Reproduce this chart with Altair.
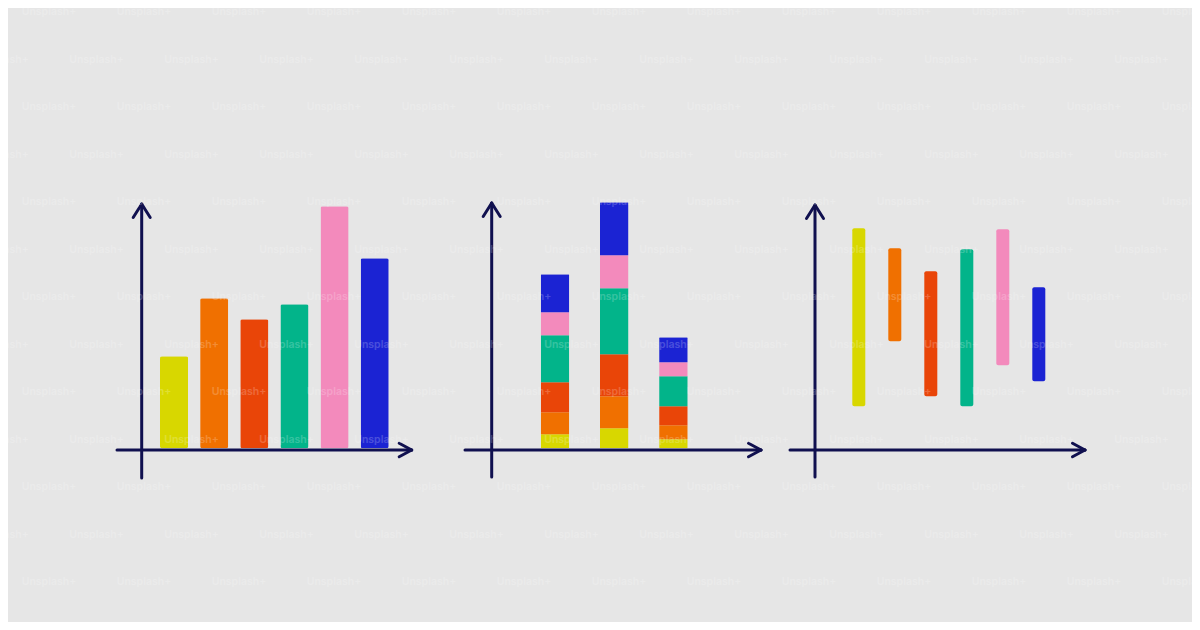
import altair as alt
import pandas as pd

# ---------------- data ----------------
series = ["yellow", "orange", "red", "green", "pink", "blue"]
palette = ["#d8d700", "#f07000", "#e94508", "#02b48a", "#f38abc", "#1b23d3"]

# panel 1: simple bars
bar_values = [9.2, 15.0, 12.9, 14.4, 24.2, 19.0]

# panel 2: stacked bars (bottom -> top)
stack_groups = ["A", "B", "C"]
stack_yellow = [1.4, 2.0, 0.9]
stack_orange = [2.2, 3.2, 1.4]
stack_red = [3.0, 4.2, 1.9]
stack_green = [4.7, 6.6, 3.0]
stack_pink = [2.3, 3.3, 1.4]
stack_blue = [3.8, 5.3, 2.5]

# panel 3: floating range bars
range_low = [4.2, 10.7, 5.2, 4.2, 8.3, 6.7]
range_high = [22.0, 20.0, 17.7, 19.9, 21.9, 16.1]

watermark = "Unsplash+"

# ---------------- styles ----------------
BG = "#e6e6e6"
NAVY = "#10104f"
OFF = 8  # page margin
W, H = 1184, 614
BASE = 448.3 - OFF
YR = [BASE, BASE - 250]
YDOM = [0, 25]

one = pd.DataFrame({"a": [0]})

color_scale = alt.Scale(domain=series, range=palette)


def seg(x1, y1, x2, y2, w=3):
    return alt.Chart(one).mark_rule(color=NAVY, strokeWidth=w, strokeCap="round").encode(
        x=alt.value(x1 - OFF), y=alt.value(y1 - OFF),
        x2=alt.value(x2 - OFF), y2=alt.value(y2 - OFF))


def axes(yx, ytop, ybot, xleft, xright, xy):
    return [
        seg(yx, ytop, yx, ybot),
        seg(xleft, xy, xright, xy),
        seg(yx, ytop, yx - 8.5, ytop + 13.5),
        seg(yx, ytop, yx + 8.5, ytop + 13.5),
        seg(xright, xy, xright - 12.5, xy - 6.8),
        seg(xright, xy, xright - 12.5, xy + 6.8),
    ]


# panel 1
df1 = pd.DataFrame({"cat": series, "value": bar_values})
p1 = alt.Chart(df1).mark_bar(cornerRadius=2).encode(
    x=alt.X("cat:N", sort=series, axis=None,
            scale=alt.Scale(range=[160 - OFF, 388.7 - OFF], paddingInner=0.3, paddingOuter=0)),
    y=alt.Y("value:Q", axis=None, scale=alt.Scale(domain=YDOM, range=YR)),
    color=alt.Color("cat:N", scale=color_scale, legend=None),
)

# panel 2
rows = []
stacks = [stack_yellow, stack_orange, stack_red, stack_green, stack_pink, stack_blue]
for si, (name, vals) in enumerate(zip(series, stacks)):
    for g, v in zip(stack_groups, vals):
        rows.append({"group": g, "cat": name, "order": si, "value": v})
df2 = pd.DataFrame(rows)
p2 = alt.Chart(df2).mark_bar(cornerRadius=1).encode(
    x=alt.X("group:N", sort=stack_groups, axis=None,
            scale=alt.Scale(range=[540.7 - OFF, 687.7 - OFF], paddingInner=0.517, paddingOuter=0)),
    y=alt.Y("value:Q", axis=None, stack="zero", scale=alt.Scale(domain=YDOM, range=YR)),
    color=alt.Color("cat:N", scale=color_scale, legend=None),
    order=alt.Order("order:Q"),
)

# panel 3
df3 = pd.DataFrame({"cat": series, "low": range_low, "high": range_high})
p3 = alt.Chart(df3).mark_bar(cornerRadius=2).encode(
    x=alt.X("cat:N", sort=series, axis=None,
            scale=alt.Scale(range=[852.3 - OFF, 1045.3 - OFF], paddingInner=0.639, paddingOuter=0)),
    y=alt.Y("low:Q", axis=None, scale=alt.Scale(domain=YDOM, range=YR)),
    y2="high:Q",
    color=alt.Color("cat:N", scale=color_scale, legend=None),
)

# decorative axes
deco = []
deco += axes(141.7, 204, 478, 117, 411.7, 450)
deco += axes(491.7, 203, 477, 465, 761, 450)
deco += axes(815, 205, 477, 790, 1085, 450)

# next-row arrow tips at the bottom edge
tips = [
    alt.Chart(one).mark_point(shape="triangle-up", filled=True, color=NAVY, opacity=1, size=150).encode(
        x=alt.value(px - OFF), y=alt.value(628 - OFF))
    for px in (144.3, 491.7, 815.7)
]

# watermark grid
wm_rows = []
for r in range(15):
    y = 12.3 + 47.5 * r
    x0 = 21.7 if r % 2 == 0 else 21.7 - 47.5
    for c in range(14):
        wm_rows.append({"x": x0 + 95 * c, "y": y, "t": watermark})
dfw = pd.DataFrame(wm_rows)
wm = alt.Chart(dfw).mark_text(
    font="Inter", fontSize=10.5, fontWeight=600, align="left", baseline="middle",
    color="white", opacity=0.2,
).encode(
    x=alt.X("x:Q", axis=None, scale=alt.Scale(domain=[OFF, OFF + W], range=[0, W])),
    y=alt.Y("y:Q", axis=None, scale=alt.Scale(domain=[OFF, OFF + H], range=[0, H])),
    text="t:N",
)

chart = alt.layer(p1, p2, p3, *deco, *tips, wm).resolve_scale(
    x="independent", y="independent"
).properties(
    width=W, height=H, background=BG, padding=0,
    autosize=alt.AutoSizeParams(type="none"),
).configure_view(stroke=None)

chart.save("out.html", embed_options={"renderer": "svg", "actions": False})
